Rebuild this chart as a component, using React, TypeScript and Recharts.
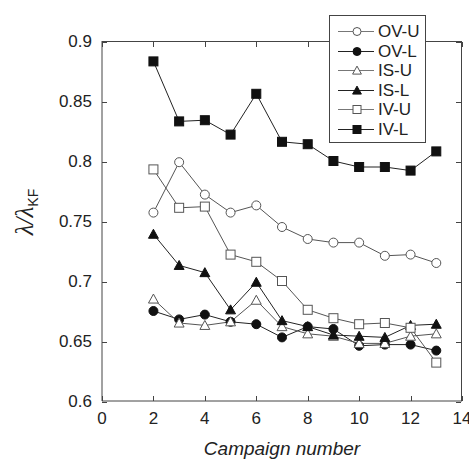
import React from "react";
import { LineChart, Line, XAxis, YAxis, Legend, Label } from "recharts";

// values
const campaigns = [2, 3, 4, 5, 6, 7, 8, 9, 10, 11, 12, 13];
const ovU = [0.757, 0.799, 0.772, 0.757, 0.763, 0.745, 0.735, 0.732, 0.732, 0.721, 0.722, 0.715];
const ovL = [0.675, 0.668, 0.672, 0.666, 0.664, 0.653, 0.662, 0.660, 0.646, 0.647, 0.647, 0.642];
const isU = [0.685, 0.665, 0.663, 0.666, 0.684, 0.662, 0.656, 0.654, 0.648, 0.648, 0.654, 0.656];
const isL = [0.739, 0.713, 0.707, 0.676, 0.699, 0.667, 0.662, 0.655, 0.654, 0.653, 0.663, 0.664];
const ivU = [0.793, 0.761, 0.762, 0.722, 0.716, 0.700, 0.676, 0.669, 0.664, 0.665, 0.661, 0.632];
const ivL = [0.883, 0.833, 0.834, 0.822, 0.856, 0.816, 0.814, 0.800, 0.795, 0.795, 0.792, 0.808];

const xTicks = [0, 2, 4, 6, 8, 10, 12, 14];
const yTicks = [0.6, 0.65, 0.7, 0.75, 0.8, 0.85, 0.9];

const series = [
  { key: "ovU", name: "OV-U", shape: "circle", filled: false },
  { key: "ovL", name: "OV-L", shape: "circle", filled: true },
  { key: "isU", name: "IS-U", shape: "triangle", filled: false },
  { key: "isL", name: "IS-L", shape: "triangle", filled: true },
  { key: "ivU", name: "IV-U", shape: "square", filled: false },
  { key: "ivL", name: "IV-L", shape: "square", filled: true },
];

const data = campaigns.map((c, i) => ({
  campaign: c,
  ovU: ovU[i],
  ovL: ovL[i],
  isU: isU[i],
  isL: isL[i],
  ivU: ivU[i],
  ivL: ivL[i],
}));

const FONT = "'Liberation Sans', Arial, sans-serif";
const AXIS = "#444";
const TEXT = "#222";
const X_MIN = xTicks[0];
const X_MAX = xTicks[xTicks.length - 1];
const Y_MIN = yTicks[0];
const Y_MAX = yTicks[yTicks.length - 1];

// chart layout
const W = 469;
const H = 459;
const MARGIN = { top: 41, right: 7, bottom: 0, left: 0 };
const Y_AXIS_W = 102;
const X_AXIS_H = 58;
const PLOT_W = W - MARGIN.left - MARGIN.right - Y_AXIS_W;
const PLOT_H = H - MARGIN.top - MARGIN.bottom - X_AXIS_H;

function Marker({ shape, filled, cx, cy, size }: any) {
  const fill = filled ? "#111" : "#fff";
  const stroke = filled ? "#111" : "#555";
  if (shape === "circle") {
    return <circle cx={cx} cy={cy} r={size / 2} fill={fill} stroke={stroke} strokeWidth={1} />;
  }
  if (shape === "square") {
    return <rect x={cx - size / 2} y={cy - size / 2} width={size} height={size} fill={fill} stroke={stroke} strokeWidth={1} />;
  }
  const h = size * 0.55;
  return (
    <polygon
      points={`${cx},${cy - h} ${cx - h},${cy + size * 0.45} ${cx + h},${cy + size * 0.45}`}
      fill={fill}
      stroke={stroke}
      strokeWidth={1}
    />
  );
}

const BottomTick = ({ x, y, payload }: any) => (
  <text x={x} y={y + 23} textAnchor="middle" fontSize={17} fontFamily={FONT} fill={TEXT}>
    {payload.value}
  </text>
);
const LeftTick = ({ x, y, payload }: any) => (
  <text x={x - 10} y={y + 6} textAnchor="end" fontSize={17} fontFamily={FONT} fill={TEXT}>
    {payload.value}
  </text>
);

// box frame with inward tick marks on all four sides, laid under the chart svg
function Frame() {
  const mark = { position: "absolute" as const, background: AXIS };
  return (
    <div
      style={{
        position: "absolute",
        left: MARGIN.left + Y_AXIS_W,
        top: MARGIN.top,
        width: PLOT_W,
        height: PLOT_H,
        boxSizing: "border-box",
        borderTop: `1px solid ${AXIS}`,
        borderRight: `1px solid ${AXIS}`,
      }}
    >
      {xTicks.map((t) => {
        const left = ((t - X_MIN) / (X_MAX - X_MIN)) * PLOT_W;
        return (
          <React.Fragment key={`x${t}`}>
            <div style={{ ...mark, left, top: 0, width: 1, height: 5 }} />
            <div style={{ ...mark, left, bottom: 0, width: 1, height: 5 }} />
          </React.Fragment>
        );
      })}
      {yTicks.map((t) => {
        const top = ((Y_MAX - t) / (Y_MAX - Y_MIN)) * PLOT_H;
        return (
          <React.Fragment key={`y${t}`}>
            <div style={{ ...mark, top, left: 0, width: 5, height: 1 }} />
            <div style={{ ...mark, top, right: 0, width: 5, height: 1 }} />
          </React.Fragment>
        );
      })}
    </div>
  );
}

// legend rows follow the series order, not the payload order
function LegendBox() {
  return (
    <div
      style={{
        width: 97,
        height: 128,
        boxSizing: "border-box",
        border: `1px solid ${AXIS}`,
        background: "#fff",
        paddingTop: 6,
        fontFamily: FONT,
        fontSize: 17,
        color: TEXT,
      }}
    >
      {series.map((s) => (
        <div key={s.key} style={{ display: "flex", alignItems: "center", height: 19.5 }}>
          <svg width={47} height={19} style={{ display: "block" }}>
            <line x1={8} y1={9.5} x2={44} y2={9.5} stroke={s.filled ? "#222" : "#777"} />
            <Marker shape={s.shape} filled={s.filled} cx={27} cy={9.5} size={8} />
          </svg>
          <span style={{ marginLeft: 1, lineHeight: "19px" }}>{s.name}</span>
        </div>
      ))}
    </div>
  );
}

const YLabel = ({ viewBox }: any) => {
  const cx = viewBox.x + 33;
  const cy = viewBox.y + viewBox.height / 2 - 9;
  return (
    <text transform={`rotate(-90 ${cx} ${cy})`} x={cx} y={cy} textAnchor="middle" fill={TEXT}>
      <tspan fontFamily="'Liberation Serif', serif" fontStyle="italic" fontSize={25}>
        λ/λ
      </tspan>
      <tspan dy={5} fontFamily={FONT} fontSize={14}>
        KF
      </tspan>
    </text>
  );
};

const XLabel = ({ viewBox }: any) => (
  <text
    x={viewBox.x + viewBox.width / 2}
    y={viewBox.y + 54}
    textAnchor="middle"
    fontFamily={FONT}
    fontStyle="italic"
    fontSize={19}
    fill={TEXT}
  >
    Campaign number
  </text>
);

export default function App() {
  return (
    <div style={{ position: "absolute", left: 0, top: 0, width: W, height: H, background: "#fff" }}>
      <Frame />
      <LineChart width={W} height={H} data={data} margin={MARGIN}>
        <XAxis
          dataKey="campaign"
          type="number"
          domain={[X_MIN, X_MAX]}
          ticks={xTicks}
          interval={0}
          height={X_AXIS_H}
          stroke={AXIS}
          tickLine={false}
          tickSize={0}
          tickMargin={0}
          tick={<BottomTick />}
        >
          <Label content={<XLabel />} />
        </XAxis>
        <YAxis
          type="number"
          domain={[Y_MIN, Y_MAX]}
          ticks={yTicks}
          interval={0}
          width={Y_AXIS_W}
          stroke={AXIS}
          tickLine={false}
          tickSize={0}
          tickMargin={0}
          tick={<LeftTick />}
        >
          <Label content={<YLabel />} />
        </YAxis>
        {series.map((s) => (
          <Line
            key={s.key}
            dataKey={s.key}
            name={s.name}
            type="linear"
            stroke={s.filled ? "#222" : "#555"}
            strokeWidth={1}
            isAnimationActive={false}
            dot={(p: any) => (
              <Marker key={`${s.key}-${p.index}`} shape={s.shape} filled={s.filled} cx={p.cx} cy={p.cy} size={9} />
            )}
            activeDot={false}
          />
        ))}
        <Legend
          layout="vertical"
          align="center"
          verticalAlign="middle"
          wrapperStyle={{ position: "absolute", left: 329, top: 15, width: 97, height: 128 }}
          content={<LegendBox />}
        />
      </LineChart>
    </div>
  );
}
